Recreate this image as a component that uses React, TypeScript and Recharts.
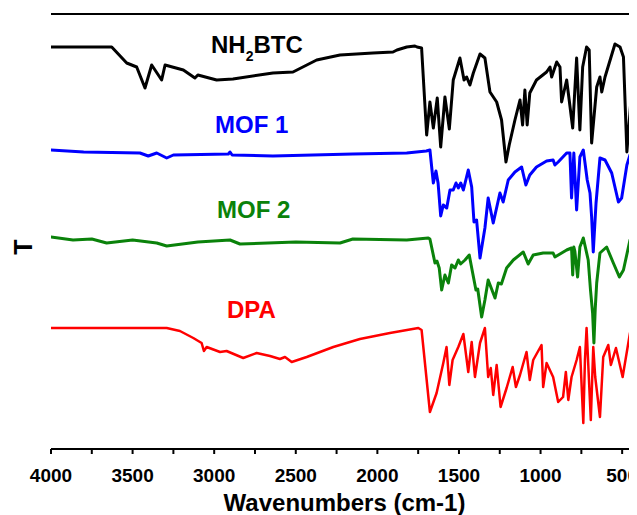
import { LineChart, Line, XAxis, YAxis, ReferenceLine } from "recharts";

// FTIR spectra, x = wavenumber (cm-1), y = transmittance (arbitrary units, offset per sample)
const nh2btc: [number, number][] = [
  [4000, 402], [3628, 402], [3536, 386], [3475, 382], [3424, 361], [3383, 384], [3322, 369], [3301, 384],
  [3189, 379], [3118, 371], [3100, 374], [2985, 369], [2885, 370], [2640, 376], [2517, 377], [2372, 389],
  [2229, 394], [2027, 396], [1904, 397], [1880, 399], [1820, 402], [1770, 403], [1757, 402], [1729, 401],
  [1698, 314], [1678, 347], [1657, 321], [1633, 351], [1612, 302], [1586, 352], [1559, 320], [1535, 369],
  [1494, 391], [1469, 369], [1453, 372], [1433, 364], [1412, 376], [1371, 395], [1341, 391], [1310, 357],
  [1269, 347], [1239, 329], [1212, 287], [1192, 304], [1157, 329], [1126, 349], [1110, 324], [1096, 359],
  [1082, 324], [1066, 356], [1025, 369], [963, 377], [942, 382], [932, 372], [901, 387], [881, 382],
  [871, 347], [840, 369], [803, 321], [779, 391], [759, 319], [742, 382], [718, 402], [702, 399],
  [687, 306], [656, 362], [636, 372], [625, 357], [605, 372], [544, 405], [513, 402], [492, 392],
  [471, 297], [440, 362], [420, 397], [409, 401],
];

const mof1: [number, number][] = [
  [4000, 299], [3800, 297], [3455, 296], [3404, 293], [3352, 296], [3291, 291], [3250, 294], [2913, 295],
  [2903, 297], [2890, 294], [2640, 293], [2150, 295], [1820, 296], [1700, 298], [1678, 299], [1657, 266],
  [1641, 278], [1628, 266], [1612, 233], [1596, 244], [1575, 241], [1555, 259], [1535, 259], [1518, 266],
  [1504, 261], [1489, 266], [1473, 259], [1443, 279], [1422, 262], [1408, 227], [1392, 229], [1371, 191],
  [1341, 221], [1321, 251], [1290, 226], [1249, 256], [1229, 247], [1198, 269], [1157, 277], [1116, 282],
  [1090, 264], [1066, 274], [1025, 282], [963, 288], [923, 289], [912, 284], [892, 287], [840, 296],
  [820, 296], [810, 251], [796, 296], [779, 239], [759, 292], [738, 299], [714, 269], [697, 256],
  [687, 232], [677, 197], [660, 246], [636, 291], [605, 289], [564, 276], [523, 247], [503, 251],
  [471, 284], [452, 294], [432, 282], [409, 256],
];

const mof2: [number, number][] = [
  [4000, 212], [3865, 209], [3750, 210], [3659, 206], [3500, 209], [3352, 206], [3291, 203], [3100, 207],
  [2903, 209], [2842, 205], [2500, 207], [2229, 206], [2150, 210], [1820, 209], [1688, 211], [1678, 210],
  [1647, 186], [1635, 188], [1621, 181], [1606, 159], [1586, 174], [1565, 166], [1545, 184], [1524, 181],
  [1504, 189], [1490, 185], [1463, 189], [1437, 194], [1416, 176], [1396, 159], [1385, 160], [1361, 132],
  [1341, 149], [1321, 169], [1279, 151], [1259, 166], [1240, 165], [1208, 181], [1167, 189], [1106, 197],
  [1076, 185], [1045, 194], [984, 196], [923, 196], [912, 192], [840, 199], [810, 201], [803, 174],
  [796, 202], [790, 198], [773, 172], [759, 202], [738, 211], [708, 189], [694, 159], [681, 136],
  [673, 106], [665, 140], [656, 166], [636, 196], [595, 202], [554, 186], [517, 172], [492, 179],
  [452, 209], [432, 199], [409, 169],
];

const dpa: [number, number][] = [
  [4000, 121], [3600, 121], [3291, 121], [3210, 118], [3128, 111], [3077, 106], [3063, 98], [3046, 102],
  [2964, 97], [2924, 98], [2822, 91], [2740, 96], [2658, 93], [2597, 90], [2566, 92], [2525, 87],
  [2433, 92], [2270, 102], [2107, 110], [1923, 116], [1749, 121], [1729, 119], [1678, 37], [1637, 56],
  [1596, 86], [1576, 102], [1559, 64], [1539, 89], [1504, 102], [1473, 115], [1443, 77], [1422, 107],
  [1402, 72], [1371, 106], [1341, 121], [1321, 72], [1305, 81], [1290, 54], [1269, 84], [1245, 42],
  [1208, 61], [1171, 82], [1151, 62], [1126, 74], [1086, 97], [1066, 69], [1045, 89], [994, 104],
  [984, 62], [963, 86], [923, 72], [892, 47], [862, 52], [845, 77], [830, 49], [810, 72],
  [779, 89], [759, 102], [738, 26], [728, 89], [718, 121], [692, 29], [677, 102], [665, 72],
  [636, 32], [616, 92], [585, 104], [569, 84], [538, 101], [497, 72], [452, 116], [432, 121], [409, 107],
];

const xTicks = [4000, 3750, 3500, 3250, 3000, 2750, 2500, 2250, 2000, 1750, 1500, 1250, 1000, 750, 500];

const series = [
  { name: "NH2BTC", points: nh2btc, color: "#000000", width: 3 },
  { name: "MOF 1", points: mof1, color: "#0000ff", width: 3 },
  { name: "MOF 2", points: mof2, color: "#0a820a", width: 3 },
  { name: "DPA", points: dpa, color: "#ff0000", width: 2.5 },
];

const FONT = '"Liberation Sans", Arial, sans-serif';

const labelStyle = (left: number, baseline: number, color: string): React.CSSProperties => ({
  position: "absolute",
  left,
  top: baseline - 20.3,
  fontSize: 24,
  lineHeight: "24px",
  fontWeight: "bold",
  fontFamily: FONT,
  color,
  whiteSpace: "nowrap",
});

export default function App() {
  return (
    <div style={{ position: "relative", width: 629, height: 507, overflow: "hidden" }}>
      <LineChart width={629} height={500} margin={{ top: 6, right: 0, bottom: 29, left: 43 }}>
        <XAxis
          type="number"
          dataKey="wn"
          domain={[409, 4000]}
          reversed
          allowDataOverflow
          ticks={xTicks}
          interval={0}
          tickFormatter={(v: number) => (v % 500 === 0 ? String(v) : "")}
          tickSize={5}
          tickMargin={15}
          height={30}
          axisLine={{ stroke: "#000", strokeWidth: 2 }}
          tickLine={{ stroke: "#000", strokeWidth: 2 }}
          tick={{ fill: "#000", fontSize: 19, fontWeight: "bold", fontFamily: FONT }}
        />
        <YAxis
          type="number"
          domain={[0, 435]}
          width={0}
          tick={false}
          tickLine={false}
          axisLine={{ stroke: "#000", strokeWidth: 2 }}
        />
        <ReferenceLine y={435} stroke="#000" strokeWidth={2} />
        {series.map((s) => (
          <Line
            key={s.name}
            data={s.points.map(([wn, t]) => ({ wn, t }))}
            dataKey="t"
            type="linear"
            stroke={s.color}
            strokeWidth={s.width}
            strokeLinejoin="round"
            strokeLinecap="round"
            dot={false}
            isAnimationActive={false}
          />
        ))}
      </LineChart>

      <div style={labelStyle(203, 45, "#000")}>
        NH
        <span style={{ fontSize: 14, position: "relative", top: 8 }}>2</span>
        BTC
      </div>
      <div style={labelStyle(207, 125, "#0000ff")}>MOF 1</div>
      <div style={labelStyle(209, 210, "#0a820a")}>MOF 2</div>
      <div style={labelStyle(219, 310, "#ff0000")}>DPA</div>

      <div
        style={{
          ...labelStyle(0, 503.5, "#000"),
          left: 336.5,
          transform: "translateX(-50%)",
        }}
      >
        Wavenumbers (cm-1)
      </div>
      <div
        style={{
          position: "absolute",
          left: 14.5,
          top: 239,
          transform: "translate(-50%, -50%) rotate(-90deg)",
          fontSize: 25,
          lineHeight: "25px",
          fontWeight: "bold",
          fontFamily: FONT,
          color: "#000",
        }}
      >
        T
      </div>
    </div>
  );
}
